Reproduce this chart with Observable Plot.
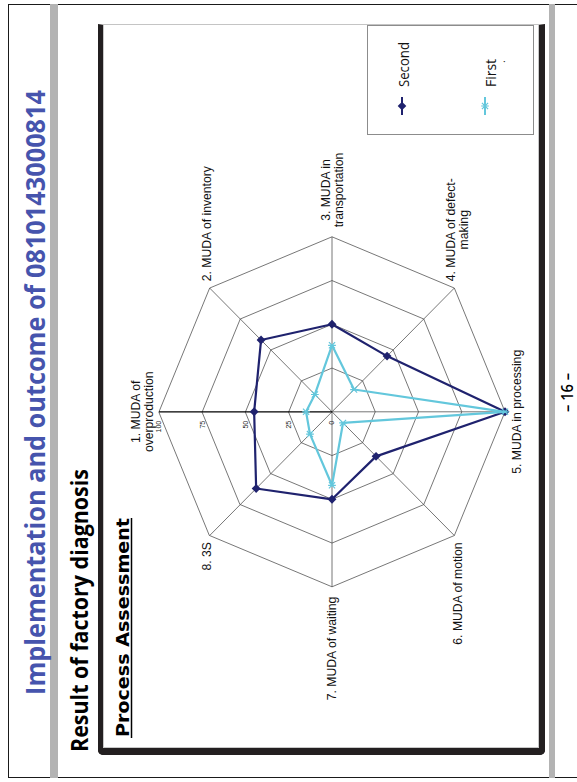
<!DOCTYPE html>
<html>
<head>
<meta charset="utf-8">
<script src="https://cdn.jsdelivr.net/npm/d3@7"></script>
<script src="https://cdn.jsdelivr.net/npm/@observablehq/plot@0.6"></script>
<style>
  html, body { margin: 0; padding: 0; background: #fff; width: 577px; height: 782px; overflow: hidden; }
  /* The slide is laid out landscape, then turned a quarter turn counter-clockwise */
  #slide { position: absolute; left: 0; top: 0; width: 782px; height: 577px; background: #fff; overflow: hidden;
           transform-origin: 0 0; transform: translate(0px, 782px) rotate(-90deg); }
  .frame { position: absolute; left: 4px; top: 8px; width: 774px; height: 620px; border: 1.5px solid #1a1a1a; box-sizing: border-box; }
  .bar { position: absolute; left: 4px; width: 774px; background: #b3b3b3; }
  .panel { position: absolute; left: 27px; top: 98px; width: 731px; height: 447px; box-sizing: border-box; background: #fff;
           border-top: 5px solid #231f20; border-left: 7px solid #231f20; border-bottom: 6px solid #231f20; border-right: 1px solid #c4c4c4;
           border-radius: 5px 0 0 5px; box-shadow: inset 1px 1px 0 #c8c8c8, inset 0 -1px 0 #c8c8c8; }
  .layer { position: absolute; left: 0; top: 0; }
  #legend { position: absolute; left: 647px; top: 367px; }
</style>
</head>
<body>
<div id="slide">
  <div class="frame"></div>
  <div class="bar" style="top:50px;height:8px"></div>
  <div class="bar" style="top:549px;height:6px"></div>
  <div class="panel"></div>
  <div id="chart" class="layer"></div>
  <svg id="legend" width="111" height="168"></svg>
  <svg class="layer" width="782" height="577">
    <text x="389.5" y="45" text-anchor="middle" textLength="605" lengthAdjust="spacingAndGlyphs"
          font-family="'Open Sans', sans-serif" font-weight="700" font-size="26" fill="#4654ad">Implementation and outcome of 0810143000814</text>
    <text x="30" y="88" textLength="283" lengthAdjust="spacingAndGlyphs"
          font-family="'Open Sans', sans-serif" font-weight="700" font-size="23" fill="#000">Result of factory diagnosis</text>
    <text x="45" y="129" textLength="219" lengthAdjust="spacingAndGlyphs"
          font-family="'DejaVu Sans', sans-serif" font-weight="700" font-size="18.5" fill="#000">Process Assessment</text>
    <line x1="44" x2="264" y1="131.5" y2="131.5" stroke="#000" stroke-width="1.5"></line>
    <text x="389.5" y="573" text-anchor="middle" textLength="39" lengthAdjust="spacingAndGlyphs"
          font-family="'Open Sans', sans-serif" font-weight="600" font-size="16" fill="#000">– 16 –</text>
  </svg>
</div>
<script>
// Process assessment scores, 0–100, for the eight kinds of waste
const categories = [
  "1. MUDA of\noverproduction",
  "2. MUDA of inventory",
  "3. MUDA in\ntransportation",
  "4. MUDA of defect-\nmaking",
  "5. MUDA in processing",
  "6. MUDA of motion",
  "7. MUDA of waiting",
  "8. 3S"
];
const seriesNames = ["Second", "First"];
const seriesColors = ["#1f226e", "#63c7dc"];
const secondValues = [45, 58, 50, 45, 100, 36, 50, 62];
const firstValues = [15, 14, 38, 18, 100, 9, 42, 18];
const ringLevels = [25, 50, 75, 100];
const tickValues = [0, 25, 50, 75, 100];

// geometry of the radar inside the slide
const center = {x: 369.7, y: 331.5};
const radius = {x: 175, y: 173};
const labelSize = 12.2;

const angleOf = i => (i * 2 * Math.PI) / categories.length;
const polar = (r, i) => ({x: r * Math.sin(angleOf(i)), y: r * Math.cos(angleOf(i))});

const ringPoints = ringLevels.flatMap(level => categories.map((_, i) => ({level, ...polar(level, i)})));
const spokes = categories.map((_, i) => ({i, ...polar(100, i)}));
const seriesRows = (name, values) => values.map((value, i) => ({series: name, i, value, ...polar(value, i)}));
const secondRows = seriesRows(seriesNames[0], secondValues);
const firstRows = seriesRows(seriesNames[1], firstValues);

// spreadsheet-style asterisk marker: an x with a bar through it
const asterisk = {
  draw(context, size) {
    const r = Math.sqrt(size) / 2;
    context.moveTo(-r, -r); context.lineTo(r, r);
    context.moveTo(-r, r); context.lineTo(r, -r);
    context.moveTo(0, -r * 1.25); context.lineTo(0, r * 1.25);
  }
};

// category labels sit just beyond each spoke tip
const measure = document.createElement("canvas").getContext("2d");
measure.font = `${labelSize}px "Liberation Sans"`;
const labelMarks = categories.map((label, i) => {
  const s = Math.sin(angleOf(i)), c = Math.cos(angleOf(i));
  const w = d3.max(label.split("\n"), line => measure.measureText(line).width);
  let dx = 0, dy, lineAnchor = "middle";
  if (Math.abs(s) < 1e-6) {
    lineAnchor = c > 0 ? "bottom" : "top";
    dy = c > 0 ? -6 : 7;
  } else {
    const gap = Math.abs(s) > 0.99 ? 9.5 : 6.5;
    dx = Math.sign(s) * (gap + w / 2);
    dy = -c * 4.5;
  }
  return Plot.text([{label, ...polar(100, i)}], {
    x: "x", y: "y", text: "label", dx, dy, textAnchor: "middle", lineAnchor,
    fontSize: labelSize, lineHeight: 1.05, fill: "#111"
  });
});

const chart = Plot.plot({
  width: 782,
  height: 577,
  style: {background: "transparent", fontFamily: "'Liberation Sans', Arial, sans-serif", overflow: "visible"},
  x: {domain: [-100, 100], range: [center.x - radius.x, center.x + radius.x], axis: null},
  y: {domain: [-100, 100], range: [center.y + radius.y, center.y - radius.y], axis: null},
  color: {domain: seriesNames, range: seriesColors},
  marks: [
    Plot.line(ringPoints, {x: "x", y: "y", z: "level", curve: "linear-closed", stroke: "#4a4a4a", strokeWidth: 0.75}),
    Plot.link(spokes.filter(d => d.i > 0), {x1: 0, y1: 0, x2: "x", y2: "y", stroke: "#4a4a4a", strokeWidth: 0.75}),
    Plot.link(spokes.filter(d => d.i === 0), {x1: 0, y1: 0, x2: "x", y2: "y", stroke: "#000", strokeWidth: 1.3}),
    Plot.text(tickValues, {x: 0, y: d => d, text: d => String(d), textAnchor: "end", dx: -9, fontSize: 7, fill: "#222"}),
    Plot.line(secondRows, {x: "x", y: "y", stroke: "series", curve: "linear-closed", strokeWidth: 2.2}),
    Plot.dot(secondRows, {x: "x", y: "y", fill: "series", symbol: "diamond2", r: 4}),
    Plot.line(firstRows, {x: "x", y: "y", stroke: "series", curve: "linear-closed", strokeWidth: 2.2}),
    Plot.dot(firstRows, {x: "x", y: "y", stroke: "series", symbol: asterisk, r: 3.5, strokeWidth: 1.2}),
    ...labelMarks
  ]
});
document.getElementById("chart").append(chart);

// legend: a line sample with its marker beside each series name
const legend = d3.select("#legend");
legend.append("rect").attr("x", 0.5).attr("y", 0.5).attr("width", 109).attr("height", 166)
  .attr("fill", "#fff").attr("stroke", "#8c8c8c");
const rowY = [35, 118];
const textBase = [42, 129];
const textLen = [45, 28];
seriesNames.forEach((name, k) => {
  const g = legend.append("g");
  g.append("line").attr("x1", 20).attr("x2", 38).attr("y1", rowY[k]).attr("y2", rowY[k])
    .attr("stroke", seriesColors[k]).attr("stroke-width", 2);
  const sym = k === 0 ? d3.symbol(d3.symbolDiamond2, 48) : d3.symbol(asterisk, 38);
  g.append("path").attr("d", sym()).attr("transform", `translate(29,${rowY[k]})`)
    .attr("fill", k === 0 ? seriesColors[k] : "none").attr("stroke", seriesColors[k]).attr("stroke-width", k === 0 ? 0 : 1.2);
  g.append("text").attr("x", 48).attr("y", textBase[k]).attr("font-family", "'Open Sans', sans-serif")
    .attr("font-weight", 400).attr("font-size", 15).attr("fill", "#111")
    .attr("textLength", textLen[k]).attr("lengthAdjust", "spacingAndGlyphs").text(name);
});
legend.append("text").attr("x", 72).attr("y", 138).attr("font-family", "'Open Sans', sans-serif")
  .attr("font-size", 10).attr("fill", "#222").text(".");
</script>
</body>
</html>
